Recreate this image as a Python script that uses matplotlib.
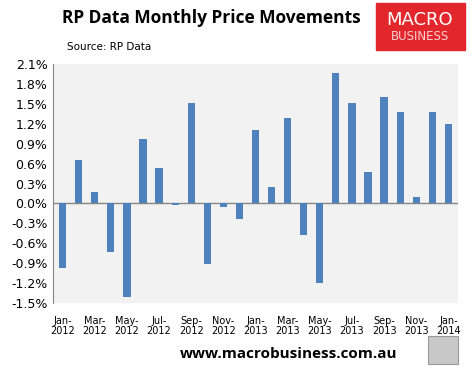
import matplotlib.pyplot as plt
from matplotlib.patches import Rectangle
from matplotlib.ticker import FuncFormatter, MultipleLocator

# monthly price movement, % (Jan 2012 .. Jan 2014)
months = ["Jan-2012", "Feb-2012", "Mar-2012", "Apr-2012", "May-2012", "Jun-2012",
          "Jul-2012", "Aug-2012", "Sep-2012", "Oct-2012", "Nov-2012", "Dec-2012",
          "Jan-2013", "Feb-2013", "Mar-2013", "Apr-2013", "May-2013", "Jun-2013",
          "Jul-2013", "Aug-2013", "Sep-2013", "Oct-2013", "Nov-2013", "Dec-2013",
          "Jan-2014"]
changes = [-0.97, 0.66, 0.17, -0.73, -1.41, 0.97, 0.53, -0.03, 1.51, -0.92, -0.05, -0.24,
           1.10, 0.24, 1.28, -0.48, -1.20, 1.96, 1.51, 0.47, 1.61, 1.37, 0.09, 1.37,
           1.19]

W, H = 477, 375
fig = plt.figure(figsize=(W / 100, H / 100), dpi=100)
ax = fig.add_axes([53 / W, 1 - 303 / H, 405 / W, 239 / H])
ax.set_facecolor("#f2f2f2")

x = list(range(len(months)))
ax.bar(x, changes, width=0.45, color="#4f81bd", zorder=3)
ax.axhline(0, color="#868686", lw=1, zorder=2)

ax.set_xlim(-0.6, len(months) - 0.4)
ax.set_ylim(-1.5, 2.1)
ax.yaxis.set_major_locator(MultipleLocator(0.3))
ax.yaxis.set_major_formatter(FuncFormatter(lambda v, p: f"{v + 0.0:.1f}%".replace("-0.0", "0.0")))
ax.set_xticks(x[::2])
ax.set_xticklabels([m.replace("-", "-\n") for m in months[::2]], fontsize=7,
                   linespacing=1.0)

for s in ["top", "right", "bottom"]:
    ax.spines[s].set_visible(False)
ax.spines["left"].set_color("#868686")
ax.tick_params(axis="x", length=0, pad=9)
ax.tick_params(axis="y", length=0, labelsize=9, pad=4)

fig.text(211 / W, 1 - 18 / H, "RP Data Monthly Price Movements", ha="center",
         va="center", fontsize=12.5, fontweight="bold", family="Open Sans")
fig.text(67 / W, 1 - 47 / H, "Source: RP Data", ha="left", va="center", fontsize=7.5)

# logo box
fig.patches.append(Rectangle((376 / W, 1 - 50 / H), 89 / W, 47 / H,
                             transform=fig.transFigure, color="#e3262b"))
fig.text(420 / W, 1 - 20 / H, "MACRO", ha="center", va="center", color="white",
         fontsize=13)
fig.text(420 / W, 1 - 37 / H, "BUSINESS", ha="center", va="center", color="#f5d0d0",
         fontsize=8.5)

fig.text(289 / W, 1 - 354 / H, "www.macrobusiness.com.au", ha="center", va="center",
         fontsize=11, fontweight="bold", family="Open Sans")
fig.patches.append(Rectangle((428 / W, 1 - 364 / H), 30 / W, 28 / H,
                             transform=fig.transFigure, facecolor="#c8c8c8",
                             edgecolor="#999999", lw=0.8))

fig.savefig("out.png", dpi=100, facecolor="white")
